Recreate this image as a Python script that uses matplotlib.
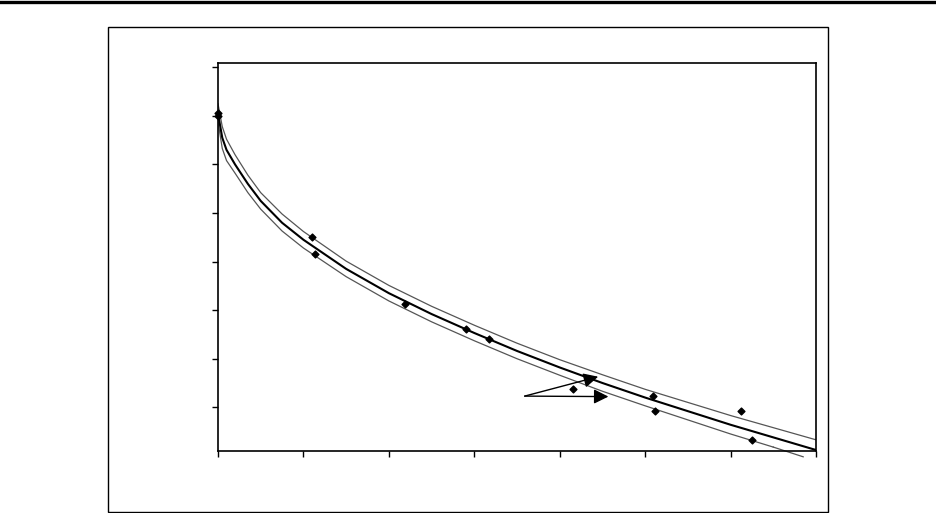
import matplotlib
matplotlib.use("Agg")
import matplotlib.pyplot as plt
from matplotlib.patches import Rectangle
from matplotlib.lines import Line2D

# fitted curve and confidence band
curve_x = [0, 0.05, 0.1, 0.2, 0.35, 0.5, 0.75, 1, 1.5, 2, 2.5, 3, 3.5, 4, 4.5, 5, 5.5, 6, 6.5, 7]
fit_mid = [7.05, 6.55, 6.3, 6.0, 5.6, 5.25, 4.8, 4.45, 3.85, 3.35, 2.92, 2.53, 2.16, 1.82, 1.50, 1.20, 0.92, 0.64, 0.38, 0.12]
fit_hi = [7.25, 6.78, 6.52, 6.2, 5.78, 5.42, 4.98, 4.62, 4.01, 3.51, 3.08, 2.69, 2.32, 1.98, 1.67, 1.37, 1.10, 0.83, 0.58, 0.33]
fit_lo = [6.88, 6.33, 6.08, 5.82, 5.42, 5.08, 4.63, 4.28, 3.69, 3.19, 2.76, 2.37, 2.00, 1.66, 1.33, 1.03, 0.74, 0.45, 0.18, -0.10]

# measured points
pts_x = [0, 0, 1.10, 1.14, 2.19, 2.90, 3.17, 4.16, 5.09, 5.12, 6.12, 6.25]
pts_y = [7.06, 7.0, 4.51, 4.16, 3.13, 2.61, 2.41, 1.38, 1.23, 0.93, 0.93, 0.33]

# arrow start and the two tips
arrow_from = (3.59, 1.23)
arrow_tips = [(4.45, 1.63), (4.57, 1.22)]

fig = plt.figure(figsize=(9.36, 5.13), dpi=100)

# page decoration: rule at top and outer frame
fig.add_artist(Line2D([0, 1], [0.996, 0.996], transform=fig.transFigure, color='k', lw=2.4))
fig.add_artist(Rectangle((0.1154, 0.002), 0.7692, 0.9454, transform=fig.transFigure,
                         fill=False, edgecolor='k', lw=1.0))

ax = fig.add_axes([0.2329, 0.1209, 0.6389, 0.7563])
ax.plot(curve_x, fit_hi, color='#555555', lw=0.9)
ax.plot(curve_x[:-1], fit_lo[:-1], color='#555555', lw=0.9)
ax.plot([curve_x[-2], 6.85], [fit_lo[-2], -0.02], color='#555555', lw=0.9, clip_on=False)
ax.plot(curve_x, fit_mid, color='k', lw=1.5)
ax.scatter(pts_x, pts_y, marker='D', s=12, color='k', zorder=5, clip_on=False)

for tip in arrow_tips:
    ax.annotate('', xy=tip, xytext=arrow_from,
                arrowprops=dict(arrowstyle='-|>', mutation_scale=22, lw=1.0, color='k',
                                shrinkA=0, shrinkB=0))

ax.set_xlim(0, 7)
ax.set_ylim(0.10, 8.09)
ax.set_xticks(range(0, 8))
ax.set_yticks(range(1, 9))
ax.set_xticklabels([])
ax.set_yticklabels([])
ax.tick_params(direction='out', length=4, width=1, color='k')
for s in ax.spines.values():
    s.set_linewidth(1.2)

fig.savefig('out.png', dpi=100)
